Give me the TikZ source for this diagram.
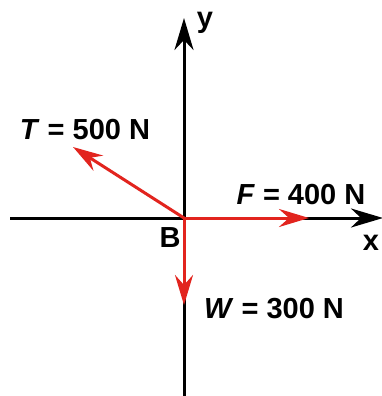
\documentclass[tikz,border=0pt]{standalone}
\usepackage{fontspec}
\setmainfont{Liberation Sans}
\usetikzlibrary{arrows.meta}
\definecolor{vecred}{RGB}{226,36,30}
\begin{document}
\begin{tikzpicture}[x=1pt,y=-1pt,
  axis/.style={line width=3pt,black,-{Stealth[length=32pt,width=19pt,inset=10pt]}},
  force/.style={line width=3pt,vecred,-{Stealth[length=30pt,width=18pt,inset=10pt]}},
  lbl/.style={font=\bfseries\fontsize{29}{30}\selectfont,inner sep=0pt}]
\useasboundingbox[fill=white] (0,0) rectangle (381,396);
\coordinate (B) at (184,218);
\coordinate (xs) at (10,218);
\coordinate (xe) at (383,218);
\coordinate (ys) at (184,396);
\coordinate (ye) at (184,18);
\coordinate (T) at (73,147);
\coordinate (F) at (309,218);
\coordinate (W) at (184,305);
\draw[axis] (xs) -- (xe);
\draw[axis] (ys) -- (ye);
\draw[force] (B) -- (T);
\draw[force] (B) -- (F);
\draw[force] (B) -- (W);
\node[lbl] (lT) at (85,130) {\textit{T} = 500 N};
\node[lbl] (lF) at (301,195) {\textit{F} = 400 N};
\node[lbl] (lW) at (274,309) {\textit{W} = 300 N};
\node[lbl] (lB) at (170,238) {B};
\node[lbl,anchor=base] (ly) at (205,28) {y};
\node[lbl,anchor=base] (lx) at (371,250) {x};
\end{tikzpicture}
\end{document}
